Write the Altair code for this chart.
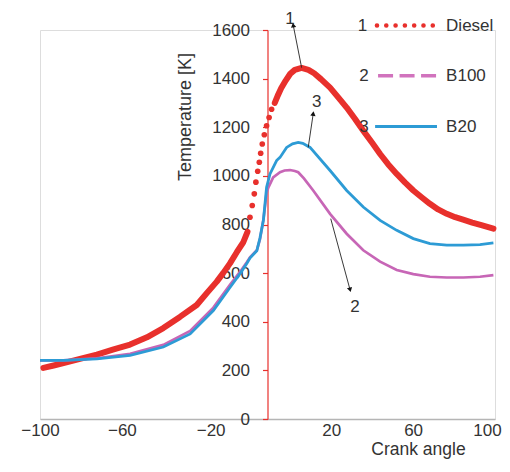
import altair as alt
import pandas as pd

# ---------------- data ----------------
# Diesel (1): dense part on the left, sparse dots during the steep rise, dense part on the right
diesel_left_x = [-98.5, -94, -89.7, -82, -75, -68, -60.4, -53, -45.8, -38.5, -31.1, -26.5, -22.3, -19.5, -16.5, -13.5, -10.6, -8.8]
diesel_left_T = [210, 220, 230, 248, 265, 285, 306, 336, 374, 420, 469, 520, 565, 600, 640, 686, 728, 770]
diesel_dots_x = [-7.7, -6.7, -5.8, -5.1, -4.3, -3.6, -3.0, -2.3, -1.4, -0.4, 0.7, 1.8]
diesel_dots_T = [830, 878, 926, 974, 1019, 1056, 1093, 1131, 1169, 1206, 1240, 1274]
diesel_right_x = [3.2, 4.5, 6, 8, 10, 12, 15, 18, 20.5, 23.5, 27.5, 31, 34.8, 38.5, 42.1, 46, 49.5, 53,
                  56.8, 60.5, 64.1, 68, 71.4, 75, 78.8, 82.5, 86, 90, 94, 99.3]
diesel_right_T = [1300, 1330, 1360, 1392, 1420, 1436, 1444, 1436, 1422, 1398, 1363, 1324, 1281, 1234, 1186, 1136,
                  1090, 1048, 1008, 972, 940, 910, 885, 862, 844, 830, 820, 808, 797, 783]

# B100 (2)
b100_x = [-100, -89.7, -75, -60.4, -45.8, -34, -23.8, -16.5, -12, -9.1, -7.7, -4.7, -3.3, -1.8, -0.4, 0.4, 2.5,
          5.5, 7.5, 9.9, 12, 13.5, 16, 20.1, 27.5, 34.8, 42.1, 49.5, 56.8, 64.1, 71.4, 78.8, 86.1, 93.4, 99.3]
b100_T = [241, 241, 249, 268, 305, 362, 458, 552, 606, 645, 665, 694, 740, 820, 930, 953, 994,
          1015, 1022, 1024, 1020, 1015, 990, 940, 844, 762, 694, 647, 613, 596, 585, 582, 582, 585, 592]

# B20 (3)
b20_x = [-100, -89.7, -75, -60.4, -45.8, -34, -23.8, -16.5, -12, -9.1, -7.7, -4.7, -3.3, -1.8, -0.4, 1.1, 4,
         5.5, 8.4, 11, 13.5, 15.5, 18.7, 27.5, 34.8, 42.1, 49.5, 56.8, 64.1, 71.4, 78.8, 86.1, 93.4, 99.3]
b20_T = [241, 241, 247, 262, 296, 350, 446, 541, 599, 640, 662, 692, 745, 817, 953, 1008, 1063,
         1076, 1117, 1132, 1138, 1134, 1117, 1022, 940, 872, 817, 776, 742, 721, 715, 715, 717, 724]

# axis ticks as they appear in the figure
x_tick_pos = [-100, -64, -25, 28, 64, 96.5]
x_tick_lab = ["\u2212100", "\u221260", "\u221220", "20", "60", "100"]
y_ticks = [0, 200, 400, 600, 800, 1000, 1200, 1400, 1600]

# curve-number annotations (text position, arrow start, arrow end, arrowhead angle)
ann_text = ["1", "3", "2"]
ann_tx = [9.9, 21.6, 38.5]
ann_tT = [1645, 1305, 462]
arr_x1 = [15.0, 17.9, 27.8]
arr_T1 = [1445, 1117, 824]
arr_x2 = [11.3, 20.1, 36.3]
arr_T2 = [1620, 1256, 531]
arr_ang = [350, 8, 165]

# legend
leg_num = ["1", "2", "3"]
leg_name = ["Diesel", "B100", "B20"]
leg_T = [1618, 1412, 1203]
leg_num_x = [41.7, 42.4, 42.4]
leg_line_x1 = [48.1, 48.6, 47.3]
leg_line_x2 = [72.7, 74.5, 74.5]
leg_lab_x = [78.5, 78.5, 78.5]

RED = "#e8302c"
PINK = "#c766b6"
BLUE = "#2d9bd5"
TXT = "#333333"
FONT = "Liberation Sans"

xs = alt.Scale(domain=[-100, 100], nice=False, zero=False)
ys = alt.Scale(domain=[0, 1600], nice=False)

dl = pd.DataFrame({"x": diesel_left_x + diesel_right_x,
                   "T": diesel_left_T + diesel_right_T,
                   "part": ["L"] * len(diesel_left_x) + ["R"] * len(diesel_right_x)})
dd = pd.DataFrame({"x": diesel_dots_x, "T": diesel_dots_T})
p2 = pd.DataFrame({"x": b100_x, "T": b100_T})
p3 = pd.DataFrame({"x": b20_x, "T": b20_T})

label_expr = " : ".join(
    [f"datum.value == {p} ? '{l}'" for p, l in zip(x_tick_pos, x_tick_lab)]) + " : ''"

x_axis = alt.Axis(values=x_tick_pos, labelExpr=label_expr, title="Crank angle", grid=False,
                  ticks=False, domainColor="#b5b5b5", domainWidth=1.5, labelFlush=False,
                  labelFont=FONT, labelFontSize=17, labelColor=TXT, labelPadding=3,
                  labelOverlap=False,
                  titleFont=FONT, titleFontSize=17.5, titleFontWeight="normal", titleColor=TXT,
                  titleX=378, titleY=30, titleAlign="center", titleBaseline="middle")
y_axis = alt.Axis(values=y_ticks, format="d", title="Temperature [K]", grid=False, offset=-227.5,
                  domainColor=RED, domainWidth=1.2, tickColor=RED, tickSize=5, tickWidth=1.2,
                  labelFont=FONT, labelFontSize=17, labelColor=TXT, labelPadding=13,
                  labelBaseline="middle", labelOverlap=False,
                  titleFont=FONT, titleFontSize=18, titleFontWeight="normal", titleColor=TXT,
                  titleAngle=270, titleX=-82.5, titleY=86.5, titleAlign="center",
                  titleBaseline="middle")

base_x = alt.X("x:Q", scale=xs, axis=x_axis)
base_y = alt.Y("T:Q", scale=ys, axis=y_axis)

diesel_line = alt.Chart(dl).mark_line(color=RED, strokeWidth=6, strokeCap="round",
                                      strokeJoin="round").encode(
    x=base_x, y=base_y, detail="part:N")
diesel_dots = alt.Chart(dd).mark_circle(color=RED, size=32, opacity=1).encode(
    x=alt.X("x:Q", scale=xs), y=alt.Y("T:Q", scale=ys))
b100_line = alt.Chart(p2).mark_line(color=PINK, strokeWidth=2.7).encode(
    x=alt.X("x:Q", scale=xs), y=alt.Y("T:Q", scale=ys))
b20_line = alt.Chart(p3).mark_line(color=BLUE, strokeWidth=2.8).encode(
    x=alt.X("x:Q", scale=xs), y=alt.Y("T:Q", scale=ys))

ann = pd.DataFrame({"t": ann_text, "tx": ann_tx, "tT": ann_tT, "x1": arr_x1, "T1": arr_T1,
                    "x2": arr_x2, "T2": arr_T2, "ang": arr_ang})
arrows = alt.Chart(ann).mark_rule(color="#222222", strokeWidth=0.9).encode(
    x=alt.X("x1:Q", scale=xs), y=alt.Y("T1:Q", scale=ys), x2="x2:Q", y2="T2:Q")
heads = alt.Chart(ann).mark_point(shape="triangle-up", filled=True, color="#111111",
                                  size=28, opacity=1).encode(
    x=alt.X("x2:Q", scale=xs), y=alt.Y("T2:Q", scale=ys), angle=alt.Angle("ang:Q", scale=None))
ann_txt = alt.Chart(ann).mark_text(font=FONT, fontSize=17, color=TXT).encode(
    x=alt.X("tx:Q", scale=xs), y=alt.Y("tT:Q", scale=ys), text="t:N")

leg = pd.DataFrame({"num": leg_num, "name": leg_name, "T": leg_T, "nx": leg_num_x,
                    "x1": leg_line_x1, "x2": leg_line_x2, "lx": leg_lab_x})
leg_nums = alt.Chart(leg).mark_text(font=FONT, fontSize=17, color=TXT).encode(
    x=alt.X("nx:Q", scale=xs), y=alt.Y("T:Q", scale=ys), text="num:N")
leg_labs = alt.Chart(leg).mark_text(font=FONT, fontSize=17, color=TXT, align="left").encode(
    x=alt.X("lx:Q", scale=xs), y=alt.Y("T:Q", scale=ys), text="name:N")
leg_d = alt.Chart(leg).transform_filter("datum.name == 'Diesel'").mark_rule(
    color=RED, strokeWidth=4.5, strokeCap="round", strokeDash=[0.1, 9.2]).encode(
    x=alt.X("x1:Q", scale=xs), x2="x2:Q", y=alt.Y("T:Q", scale=ys))
leg_p = alt.Chart(leg).transform_filter("datum.name == 'B100'").mark_rule(
    color="#d173bd", strokeWidth=3.5, strokeDash=[15, 6.5]).encode(
    x=alt.X("x1:Q", scale=xs), x2="x2:Q", y=alt.Y("T:Q", scale=ys))
leg_b = alt.Chart(leg).transform_filter("datum.name == 'B20'").mark_rule(
    color=BLUE, strokeWidth=3).encode(
    x=alt.X("x1:Q", scale=xs), x2="x2:Q", y=alt.Y("T:Q", scale=ys))

chart = alt.layer(
    diesel_line, diesel_dots, b100_line, b20_line,
    arrows, heads, ann_txt, leg_nums, leg_labs, leg_d, leg_p, leg_b
).properties(
    width=455, height=389,
    autosize=alt.AutoSizeParams(type="none"),
    padding={"left": 32, "top": 22, "right": 7, "bottom": 40},
).configure_view(stroke=None).configure(background="white")

chart.save("out.html", embed_options={"renderer": "svg", "actions": False})
